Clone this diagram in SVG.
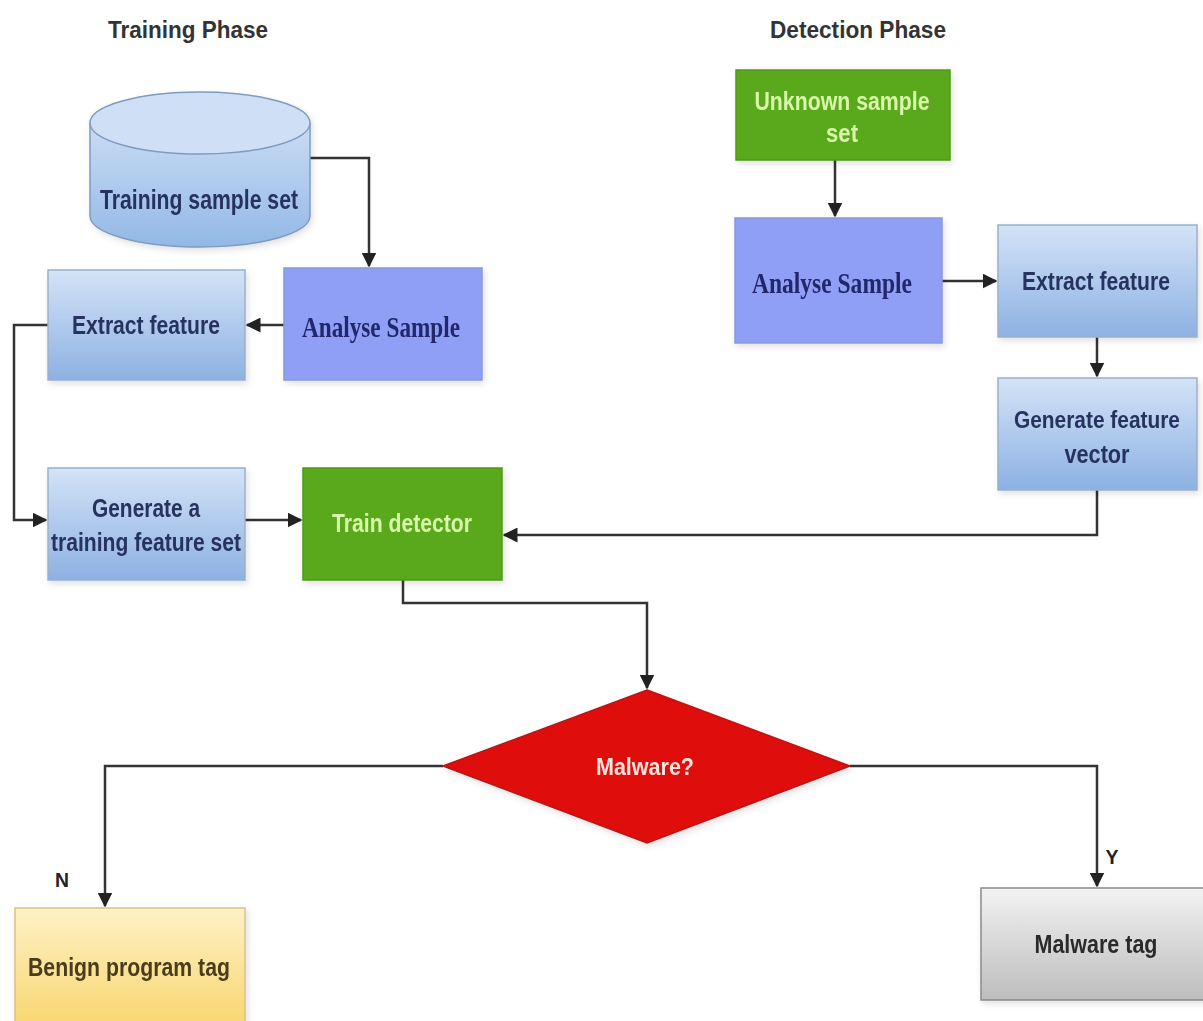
<svg xmlns="http://www.w3.org/2000/svg" width="1203" height="1021" viewBox="0 0 1203 1021">
<style>
.t{font-family:"Liberation Sans",Arial,sans-serif;font-weight:bold;text-anchor:middle;}
.blue{fill:url(#gBlue);stroke:#9ab0cc;stroke-width:1.5;}
.lav{fill:#8e9ff5;stroke:#8a98d8;stroke-width:1.5;}
.green{fill:#5aa81f;stroke:#4e9a18;stroke-width:1.5;}
.dark{fill:#27325e;}
.serif{font-family:"Liberation Serif","Times New Roman",serif;font-weight:bold;text-anchor:middle;fill:#22286a;}
.lg{fill:#d9f7a8;}
.conn{fill:none;stroke:#333;stroke-width:2.5;}
</style>
<defs>
<linearGradient id="gBlue" x1="0" y1="0" x2="0" y2="1">
<stop offset="0" stop-color="#d3e3f7"/><stop offset="1" stop-color="#8db1e2"/>
</linearGradient>
<linearGradient id="gCyl" x1="0" y1="0" x2="0" y2="1">
<stop offset="0" stop-color="#c9dcf4"/><stop offset="1" stop-color="#93b8e6"/>
</linearGradient>
<linearGradient id="gYel" x1="0" y1="0" x2="0" y2="1">
<stop offset="0" stop-color="#fdf1c6"/><stop offset="1" stop-color="#f8d66e"/>
</linearGradient>
<linearGradient id="gGray" x1="0" y1="0" x2="0" y2="1">
<stop offset="0" stop-color="#f2f2f2"/><stop offset="1" stop-color="#bdbdbd"/>
</linearGradient>
<marker id="arr" viewBox="0 0 10 10" refX="9" refY="5" markerWidth="6" markerHeight="6" orient="auto" markerUnits="strokeWidth">
<path d="M0,0 L10,5 L0,10 z" fill="#222"/>
</marker>
<filter id="sh" x="-10%" y="-10%" width="130%" height="130%">
<feDropShadow dx="2" dy="3" stdDeviation="3" flood-color="#000" flood-opacity="0.12"/>
</filter>
</defs>
<rect width="1203" height="1021" fill="#ffffff"/>

<text class="t" x="188" y="38" font-size="23" fill="#333" textLength="160" lengthAdjust="spacingAndGlyphs">Training Phase</text>
<text class="t" x="858" y="38" font-size="23" fill="#333" textLength="176" lengthAdjust="spacingAndGlyphs">Detection Phase</text>

<g id="connectors">
<path class="conn" d="M305,158 H369 V266" marker-end="url(#arr)"/>
<path class="conn" d="M284,325 H247" marker-end="url(#arr)"/>
<path class="conn" d="M48,325 H14 V520 H46" marker-end="url(#arr)"/>
<path class="conn" d="M245,520 H301" marker-end="url(#arr)"/>
<path class="conn" d="M835,160 V216" marker-end="url(#arr)"/>
<path class="conn" d="M942,281 H996" marker-end="url(#arr)"/>
<path class="conn" d="M1097,337 V376" marker-end="url(#arr)"/>
<path class="conn" d="M1097,490 V535 H504" marker-end="url(#arr)"/>
<path class="conn" d="M403,580 V603 H647 V688" marker-end="url(#arr)"/>
<path class="conn" d="M443,766 H105 V906" marker-end="url(#arr)"/>
<path class="conn" d="M850,766 H1097 V886" marker-end="url(#arr)"/>
<text class="t" x="62" y="887" font-size="21" fill="#222" textLength="14" lengthAdjust="spacingAndGlyphs">N</text>
<text class="t" x="1112" y="864" font-size="21" fill="#222" textLength="13" lengthAdjust="spacingAndGlyphs">Y</text>
</g>

<g id="training-sample-set" filter="url(#sh)">
<path d="M90,123 V216 A110,31 0 0 0 310,216 V123" fill="url(#gCyl)" stroke="#7f9cc0" stroke-width="1.5"/>
<ellipse cx="200" cy="123" rx="110" ry="31" fill="#cfe0f6" stroke="#7f9cc0" stroke-width="1.5"/>
<text class="t dark" x="199" y="209" font-size="27" textLength="198" lengthAdjust="spacingAndGlyphs">Training sample set</text>
</g>

<g id="analyse-sample-train" filter="url(#sh)">
<rect class="lav" x="284" y="268" width="198" height="112"/>
<text class="serif" x="381" y="337" font-size="30" textLength="158" lengthAdjust="spacingAndGlyphs">Analyse Sample</text>
</g>

<g id="extract-feature-train" filter="url(#sh)">
<rect class="blue" x="48" y="270" width="197" height="110"/>
<text class="t dark" x="146" y="334" font-size="26" textLength="148" lengthAdjust="spacingAndGlyphs">Extract feature</text>
</g>

<g id="generate-training-set" filter="url(#sh)">
<rect class="blue" x="48" y="468" width="197" height="112"/>
<text class="t dark" x="146" y="517" font-size="26" textLength="108" lengthAdjust="spacingAndGlyphs">Generate a</text>
<text class="t dark" x="146" y="551" font-size="26" textLength="190" lengthAdjust="spacingAndGlyphs">training feature set</text>
</g>

<g id="train-detector" filter="url(#sh)">
<rect class="green" x="303" y="468" width="199" height="112"/>
<text class="t lg" x="402" y="532" font-size="26" textLength="140" lengthAdjust="spacingAndGlyphs">Train detector</text>
</g>

<g id="unknown-sample-set" filter="url(#sh)">
<rect class="green" x="736" y="70" width="214" height="90"/>
<text class="t lg" x="842" y="110" font-size="26" textLength="175" lengthAdjust="spacingAndGlyphs">Unknown sample</text>
<text class="t lg" x="842" y="142" font-size="26" textLength="32" lengthAdjust="spacingAndGlyphs">set</text>
</g>

<g id="analyse-sample-detect" filter="url(#sh)">
<rect class="lav" x="735" y="218" width="207" height="125"/>
<text class="serif" x="832" y="293" font-size="30" textLength="160" lengthAdjust="spacingAndGlyphs">Analyse Sample</text>
</g>

<g id="extract-feature-detect" filter="url(#sh)">
<rect class="blue" x="998" y="225" width="199" height="112"/>
<text class="t dark" x="1096" y="290" font-size="26" textLength="148" lengthAdjust="spacingAndGlyphs">Extract feature</text>
</g>

<g id="generate-feature-vector" filter="url(#sh)">
<rect class="blue" x="998" y="378" width="199" height="112"/>
<text class="t dark" x="1097" y="428" font-size="23" textLength="166" lengthAdjust="spacingAndGlyphs">Generate feature</text>
<text class="t dark" x="1097" y="463" font-size="26" textLength="65" lengthAdjust="spacingAndGlyphs">vector</text>
</g>

<g id="malware-decision" filter="url(#sh)">
<polygon points="647,690 850,766 647,843 443,766" fill="#e01010" stroke="#b81414" stroke-width="1.5"/>
<text class="t" x="645" y="775" font-size="24" fill="#fbe3dc" textLength="98" lengthAdjust="spacingAndGlyphs">Malware?</text>
</g>

<g id="benign-program-tag" filter="url(#sh)">
<rect x="15" y="908" width="230" height="120" fill="url(#gYel)" stroke="#d9c28a" stroke-width="1.5"/>
<text class="t" x="129" y="976" font-size="26" fill="#4a3c1c" textLength="202" lengthAdjust="spacingAndGlyphs">Benign program tag</text>
</g>

<g id="malware-tag" filter="url(#sh)">
<rect x="981" y="888" width="230" height="112" fill="url(#gGray)" stroke="#8a8a8a" stroke-width="1.5"/>
<text class="t" x="1096" y="953" font-size="26" fill="#2a2a2a" textLength="123" lengthAdjust="spacingAndGlyphs">Malware tag</text>
</g>
</svg>
